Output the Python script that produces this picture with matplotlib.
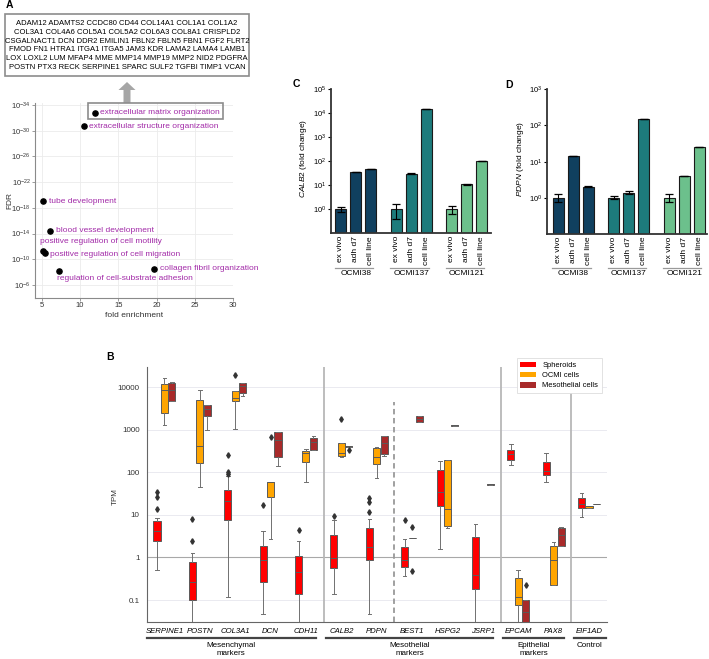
import matplotlib
matplotlib.use('Agg')
import matplotlib.pyplot as plt
import matplotlib.transforms as mtransforms
from matplotlib.patches import Rectangle, FancyArrow, Patch
from matplotlib.ticker import NullLocator

plt.rcParams['font.family'] = ['Liberation Sans', 'DejaVu Sans']
plt.rcParams['mathtext.fontset'] = 'custom'
plt.rcParams['mathtext.rm'] = 'Liberation Sans'
plt.rcParams['mathtext.it'] = 'Liberation Sans:italic'
plt.rcParams['mathtext.default'] = 'regular'

# ---------------- Panel A data ----------------
ecm_gene_lines = [
    'ADAM12 ADAMTS2 CCDC80 CD44 COL14A1 COL1A1 COL1A2',
    'COL3A1 COL4A6 COL5A1 COL5A2 COL6A3 COL8A1 CRISPLD2',
    'CSGALNACT1 DCN DDR2 EMILIN1 FBLN2 FBLN5 FBN1 FGF2 FLRT2',
    'FMOD FN1 HTRA1 ITGA1 ITGA5 JAM3 KDR LAMA2 LAMA4 LAMB1',
    'LOX LOXL2 LUM MFAP4 MME MMP14 MMP19 MMP2 NID2 PDGFRA',
    'POSTN PTX3 RECK SERPINE1 SPARC SULF2 TGFBI TIMP1 VCAN',
]
go_terms = ['extracellular matrix organization', 'extracellular structure organization',
            'tube development', 'blood vessel development',
            'positive regulation of cell motility', 'positive regulation of cell migration',
            'regulation of cell-substrate adhesion', 'collagen fibril organization']
go_fold_enrichment = [11.9, 10.45, 5.1, 6.05, 5.1, 5.4, 7.3, 19.7]
go_fdr = [1.6e-33, 2.0e-31, 1.0e-19, 4.0e-15, 5.0e-12, 9.0e-12, 6.3e-9, 3.2e-9]
fdr_tick_exponents = [-34, -30, -26, -22, -18, -14, -10, -6]
fold_ticks = [5, 10, 15, 20, 25, 30]

# ---------------- Panels C / D data ----------------
qpcr_lines = ['OCMI38', 'OCMI137', 'OCMI121']
qpcr_conditions = ['ex vivo', 'adh d7', 'cell line']
calb2_fold = [[1.0, 36, 47], [1.0, 30, 14500], [1.0, 10.8, 100]]
calb2_low = [[0.74, 35, 46], [0.38, 29.3, 14300], [0.63, 10.6, 98]]
calb2_high = [[1.26, 37, 48], [1.68, 30.7, 14700], [1.38, 11.0, 102]]
pdpn_fold = [[1.0, 14.2, 2.05], [1.0, 1.38, 150], [1.0, 4.05, 25]]
pdpn_low = [[0.78, 14.0, 2.0], [0.9, 1.28, 148], [0.76, 4.0, 24.7]]
pdpn_high = [[1.24, 14.5, 2.1], [1.1, 1.5, 152], [1.26, 4.1, 25.3]]

# ---------------- Panel B data ----------------
genes = ['SERPINE1', 'POSTN', 'COL3A1', 'DCN', 'CDH11', 'CALB2', 'PDPN', 'BEST1',
         'HSPG2', 'JSRP1', 'EPCAM', 'PAX8', 'EIF1AD']
gene_groups = ['Mesenchymal\nmarkers', 'Mesothelial\nmarkers', 'Epithelial\nmarkers', 'Control']
gene_group_sizes = [5, 5, 2, 1]
hue_names = ['Spheroids', 'OCMI cells', 'Mesothelial cells']
# (whisker low, Q1, median, Q3, whisker high) in TPM
spheroid_stats = [
    (0.51, 2.4, 4.2, 7.0, 8.5),
    (0.01, 0.1, 0.26, 0.8, 1.3),
    (0.12, 7.7, 21, 39, 80),
    (0.048, 0.27, 0.88, 1.9, 4.1),
    (0.01, 0.14, 0.45, 1.1, 2.4),
    (0.14, 0.56, 0.97, 3.4, 7.4),
    (0.047, 0.88, 1.8, 4.9, 7.8),
    (0.37, 0.6, 0.88, 1.75, 2.7),
    (1.6, 16, 34, 112, 186),
    (0.01, 0.18, 0.39, 3.0, 6.1),
    (147, 196, 270, 330, 465),
    (60, 84, 105, 170, 282),
    (9.0, 14.5, 18.2, 24.7, 32.5),
]
spheroid_fliers = [[13.8, 26, 34], [2.4, 8.1], [92, 100, 260], [17.3], [4.3], [9.2],
                   [11.4, 19.6, 24.7], [7.4], [], [], [], [], []]
ocmi_stats = [
    (1250, 2450, 8500, 12000, 16300),
    (44, 165, 420, 5000, 8300),
    (1050, 4800, 5500, 7900, 7900),
    (2.7, 25.6, 58, 59, 60),
    (59, 174, 290, 308, 350),
    (225, 235, 290, 490, 490),
    (75, 155, 230, 370, 390),
    (2.85, 2.85, 2.85, 2.85, 2.85),
    (5.0, 5.5, 13.4, 190, 190),
    None,
    (0.01, 0.078, 0.118, 0.33, 0.5),
    (0.23, 0.23, 0.88, 1.9, 2.3),
    (14.2, 14.2, 15.8, 16.3, 16.3),
]
ocmi_fliers = [[], [], [19500], [680], [], [1820], [], [5.2, 0.49], [], [], [], [], []]
meso_stats = [
    (4600, 4600, 8300, 12400, 13100),
    (960, 2040, 3100, 3700, 3800),
    (6300, 7200, 10300, 12400, 12400),
    (142, 227, 560, 860, 880),
    (337, 337, 500, 650, 690),
    (400, 400, 405, 410, 410),
    (235, 270, 490, 690, 700),
    (1510, 1510, 1780, 2040, 2100),
    (1240, 1245, 1250, 1255, 1260),
    (51, 51.5, 52, 52.5, 53),
    (0.01, 0.015, 0.052, 0.1, 0.1),
    (1.9, 1.9, 3.4, 4.9, 5.3),
    (17.6, 17.7, 17.9, 18.1, 18.2),
]
meso_fliers = [[], [], [], [], [], [330], [], [], [], [], [0.22], [], []]
tpm_ticks = [0.1, 1, 10, 100, 1000, 10000]

# ---------------- figure ----------------
W, H = 709, 659
fig = plt.figure(figsize=(W / 100, H / 100), dpi=100)


def add_px_axes(left, top, right, bottom, **kw):
    return fig.add_axes([left / W, 1 - bottom / H, (right - left) / W, (bottom - top) / H], **kw)


PURPLE = '#A22AA8'

# ---- Panel A ----
axA = add_px_axes(35, 103, 233, 298)
axA.set_yscale('log')
axA.scatter(go_fold_enrichment, go_fdr, s=14, color='black', zorder=3, clip_on=False)
axA.set_xlim(4.1, 30)
axA.set_ylim(10 ** -3.97, 10 ** -34.3)
axA.set_xticks(fold_ticks)
axA.set_yticks([10.0 ** e for e in fdr_tick_exponents])
axA.set_yticklabels([r'$10^{%d}$' % e for e in fdr_tick_exponents])
axA.yaxis.set_minor_locator(NullLocator())
axA.grid(True, color='#ebebeb', lw=0.6)
axA.set_axisbelow(True)
for s in ['top', 'right']:
    axA.spines[s].set_visible(False)
for s in ['left', 'bottom']:
    axA.spines[s].set_color('#8a8a8a')
    axA.spines[s].set_linewidth(0.8)
axA.tick_params(labelsize=5.5, length=2, width=0.6, color='#8a8a8a', labelcolor='#333333', pad=1)
axA.set_xlabel('fold enrichment', fontsize=6, labelpad=2, color='#333333')
axA.set_ylabel('FDR', fontsize=6, color='#333333')
axA.yaxis.set_label_coords(-0.11, 0.5)
label_offsets_px = [(5, 0), (5.6, 0), (6, 0), (5.7, -0.7), (-2.7, -9), (5, 2.3), (-2.6, 7.3), (6, 0)]
for term, fx, fy, (dx, dy) in zip(go_terms, go_fold_enrichment, go_fdr, label_offsets_px):
    axA.annotate(term, (fx, fy), xytext=(dx * 0.72, -dy * 0.72), textcoords='offset points',
                 ha='left', va='center', fontsize=6, color=PURPLE, annotation_clip=False)

# ---- Panels C and D ----
line_colors = ['#10405f', '#1d7b7c', '#6cc08c']
group_step = 3.69


def bar_panel(ax, values, low, high, top_exp, gene, xlim, label_y):
    ax.set_yscale('log')
    trans = mtransforms.blended_transform_factory(ax.transData, ax.transAxes)
    xs_all, labels_all = [], []
    for g, line in enumerate(qpcr_lines):
        xs = [g * group_step + i for i in range(len(qpcr_conditions))]
        v = values[g]
        ax.bar(xs, v, width=0.72, color=line_colors[g], edgecolor='#1a1a1a', linewidth=0.8, zorder=2)
        err = [[v[i] - low[g][i] for i in range(3)], [high[g][i] - v[i] for i in range(3)]]
        ax.errorbar(xs, v, yerr=err, fmt='none', ecolor='black', elinewidth=0.8,
                    capsize=3, capthick=0.9, zorder=3)
        ax.plot([xs[0] - 0.4, xs[-1] + 0.15], [label_y, label_y], transform=trans,
                clip_on=False, color='#9a9a9a', lw=0.9)
        ax.text(xs[1], label_y - 0.015, line, transform=trans, ha='center', va='top', fontsize=6)
        xs_all += xs
        labels_all += qpcr_conditions
    ax.set_xticks(xs_all)
    ax.set_xticklabels(labels_all, rotation=90, fontsize=6)
    ax.set_xlim(*xlim)
    ax.set_ylim(0.1, 10.0 ** top_exp)
    ax.set_yticks([10.0 ** e for e in range(0, top_exp + 1)])
    ax.set_yticklabels([r'$10^{%d}$' % e for e in range(0, top_exp + 1)])
    ax.yaxis.set_minor_locator(NullLocator())
    for s in ['top', 'right']:
        ax.spines[s].set_visible(False)
    for s in ['left', 'bottom']:
        ax.spines[s].set_color('#333333')
        ax.spines[s].set_linewidth(1.3)
    ax.tick_params(axis='y', labelsize=5.5, length=2.5, width=0.8, pad=1)
    ax.tick_params(axis='x', length=0, pad=2)
    ax.set_ylabel(r'$\mathit{%s}$ (fold change)' % gene, fontsize=6)


axC = add_px_axes(331, 89, 491, 233.3)
bar_panel(axC, calb2_fold, calb2_low, calb2_high, 5, 'CALB2', (-0.65, 10.0), -0.24)
axC.yaxis.set_label_coords(-0.1375, 0.52)
axD = add_px_axes(547.3, 89.3, 707, 234)
bar_panel(axD, pdpn_fold, pdpn_low, pdpn_high, 3, 'PDPN', (-0.73, 9.9), -0.235)
axD.yaxis.set_label_coords(-0.133, 0.52)

# ---- Panel B ----
axB = add_px_axes(146.7, 366.7, 606.7, 622.3)
axB.set_yscale('log')
hue_colors = ['#ff0000', '#ffa500', '#a82a2a']
hue_offsets = [-0.21, 0.0, 0.21]
for stats_list, flier_list, color, off in zip([spheroid_stats, ocmi_stats, meso_stats],
                                              [spheroid_fliers, ocmi_fliers, meso_fliers],
                                              hue_colors, hue_offsets):
    bstats, pos = [], []
    for i, (st, fl) in enumerate(zip(stats_list, flier_list)):
        if st is None:
            continue
        wl, q1, med, q3, wh = st
        bstats.append(dict(whislo=wl, q1=q1, med=med, q3=q3, whishi=wh, fliers=fl))
        pos.append(i + off)
    axB.bxp(bstats, positions=pos, widths=0.2, patch_artist=True, manage_ticks=False,
            boxprops=dict(facecolor=color, edgecolor='#5a5a5a', linewidth=0.7),
            whiskerprops=dict(color='#707070', linewidth=0.7),
            capprops=dict(color='#707070', linewidth=0.7),
            medianprops=dict(color='#5a5a5a', linewidth=0.7),
            flierprops=dict(marker='d', markersize=2.8, markerfacecolor='#333333',
                            markeredgecolor='#333333', linestyle='none'),
            zorder=3)
axB.set_xlim(-0.5, len(genes) - 0.5)
axB.set_ylim(0.03, 30000)
axB.set_yticks(tpm_ticks)
axB.set_yticklabels(['0.1', '1', '10', '100', '1000', '10000'])
axB.yaxis.set_minor_locator(NullLocator())
axB.yaxis.grid(True, color='#e6e6ee', lw=0.6)
axB.set_axisbelow(True)
axB.axhline(1, color='#a8a8a8', lw=0.8, zorder=1)
for s in ['top', 'right']:
    axB.spines[s].set_visible(False)
for s in ['left', 'bottom']:
    axB.spines[s].set_color('#666666')
    axB.spines[s].set_linewidth(0.8)
axB.set_xticks(range(len(genes)))
axB.set_xticklabels(genes, fontstyle='italic', fontsize=5.6)
axB.tick_params(axis='x', length=0, pad=4)
axB.tick_params(axis='y', length=0, pad=5, labelsize=5.8, labelcolor='#333333')
axB.set_ylabel('TPM', fontsize=5.8, color='#333333')
axB.yaxis.set_label_coords(-0.06, 0.49)

# separators
start = 0
bounds = []
for size in gene_group_sizes:
    bounds.append((start, start + size - 1))
    start += size
for k, (a, b) in enumerate(bounds[:-1]):
    axB.axvline(b + 0.5, color='#b8b8b8', lw=1.3, zorder=1)
axB.axvline(6.5, ymax=0.86, color='#999999', lw=1.3, ls=(0, (3, 2)), zorder=1)

transB = mtransforms.blended_transform_factory(axB.transData, axB.transAxes)
for k, ((a, b), name) in enumerate(zip(bounds, gene_groups)):
    x0 = a - 0.42 if k > 0 else -0.5
    x1 = b + 0.28 if k < len(bounds) - 1 else len(genes) - 0.53
    axB.plot([x0, x1], [-0.06, -0.06], transform=transB, clip_on=False, color='#444444', lw=1.6)
    axB.text((x0 + x1) / 2, -0.077, name, transform=transB, ha='center', va='top',
             fontsize=5.8, linespacing=1.15)

leg = axB.legend(handles=[Patch(facecolor=c, edgecolor='none', label=n) for c, n in zip(hue_colors, hue_names)],
                 loc='upper right', bbox_to_anchor=(0.989, 1.033), fontsize=5.4, frameon=True,
                 fancybox=False, edgecolor='#dddddd', framealpha=1, handlelength=2.2,
                 handleheight=0.8, borderpad=0.45, labelspacing=0.35, handletextpad=0.8,
                 borderaxespad=0)
leg.get_frame().set_linewidth(0.6)
leg.set_zorder(10)

# ---- overlay: panel letters, gene box, arrow ----
ov = fig.add_axes([0, 0, 1, 1], zorder=20)
ov.set_xlim(0, W)
ov.set_ylim(H, 0)
ov.axis('off')
ov.patch.set_alpha(0)
ov.add_patch(Rectangle((5, 14), 244, 62, fill=False, ec='#8c8c8c', lw=1.2))
ov.text(127, 45.4, '\n'.join(ecm_gene_lines), ha='center', va='center', fontsize=5.5, linespacing=1.33)
ov.add_patch(FancyArrow(127, 103, 0, -21, width=7, head_width=17, head_length=8,
                        length_includes_head=True, color='#a6a6a6', lw=0))
ov.add_patch(Rectangle((87.7, 103.3), 135, 16, fill=False, ec='#8c8c8c', lw=1.2))
for letter, (lx, ly) in zip('ABCD', [(9, 5), (109.7, 357.5), (296, 83.7), (509, 84.7)]):
    ov.text(lx, ly, letter, ha='center', va='center', fontsize=7.5, fontweight='bold')

fig.savefig('out.png', dpi=100)
